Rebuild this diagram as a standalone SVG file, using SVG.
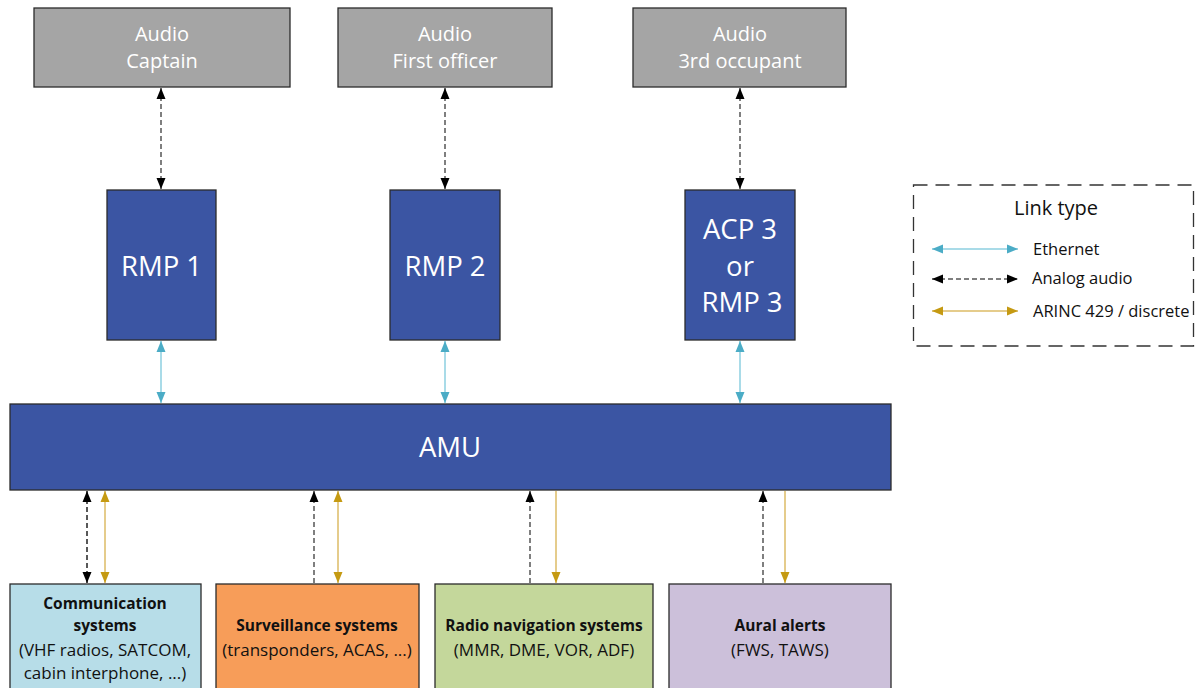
<svg xmlns="http://www.w3.org/2000/svg" width="1196" height="688" viewBox="0 0 1196 688">
<defs>
<style>
.box{stroke:#2b2b2b;stroke-width:1.3}
.gray{fill:#A5A5A5}
.blue{fill:#3B55A3}
.tw{font-family:"Open Sans","Noto Sans",sans-serif;fill:#fff;text-anchor:middle}
.tb{font-family:"Open Sans","Noto Sans",sans-serif;fill:#111;text-anchor:middle;font-size:17px}
.bold{font-weight:bold;font-size:15.5px}
.lg{font-family:"Open Sans","Noto Sans",sans-serif;fill:#111;font-size:16.5px}
.aud{stroke:#555;stroke-width:1.5;stroke-dasharray:5,3;fill:none}
.eth{stroke:#8DCFE0;stroke-width:1.5;fill:none}
.arc{stroke:#DDBB66;stroke-width:1.5;fill:none}
</style>
<marker id="mb" markerWidth="11" markerHeight="10" refX="11" refY="5" orient="auto-start-reverse" markerUnits="userSpaceOnUse"><path d="M0,0.5 L11,5 L0,9.5 z" fill="#000"/></marker>
<marker id="me" markerWidth="11" markerHeight="10" refX="11" refY="5" orient="auto-start-reverse" markerUnits="userSpaceOnUse"><path d="M0,0.5 L11,5 L0,9.5 z" fill="#4BACC6"/></marker>
<marker id="ma" markerWidth="11" markerHeight="10" refX="11" refY="5" orient="auto-start-reverse" markerUnits="userSpaceOnUse"><path d="M0,0.5 L11,5 L0,9.5 z" fill="#C59A12"/></marker>
</defs>
<rect width="1196" height="688" fill="#fff"/>

<g id="audio-captain">
<rect class="box gray" x="34" y="8" width="256" height="79"/>
<text class="tw" x="162" y="41" font-size="20">Audio</text>
<text class="tw" x="162" y="68" font-size="20">Captain</text>
</g>
<g id="audio-fo">
<rect class="box gray" x="338" y="8" width="214" height="79"/>
<text class="tw" x="445" y="41" font-size="20">Audio</text>
<text class="tw" x="445" y="68" font-size="20">First officer</text>
</g>
<g id="audio-3rd">
<rect class="box gray" x="633" y="8" width="213" height="79"/>
<text class="tw" x="740" y="41" font-size="20">Audio</text>
<text class="tw" x="740" y="68" font-size="20">3rd occupant</text>
</g>

<g id="rmp1">
<rect class="box blue" x="107" y="190" width="109" height="150"/>
<text class="tw" x="161.5" y="276" font-size="27.5">RMP 1</text>
</g>
<g id="rmp2">
<rect class="box blue" x="390" y="190" width="110" height="150"/>
<text class="tw" x="445" y="276" font-size="27.5">RMP 2</text>
</g>
<g id="acp3">
<rect class="box blue" x="685" y="190" width="110" height="150"/>
<text class="tw" x="740" y="239" font-size="27.5">ACP 3</text>
<text class="tw" x="740" y="276" font-size="27.5">or</text>
<text class="tw" x="742" y="312" font-size="27.5">RMP 3</text>
</g>

<g id="amu">
<rect class="box blue" x="10" y="404" width="881" height="86"/>
<text class="tw" x="450" y="457" font-size="27.5">AMU</text>
</g>

<g id="comm">
<rect class="box" fill="#B7DDE8" x="10" y="584" width="191" height="116"/>
<text class="tb bold" x="105" y="609">Communication</text>
<text class="tb bold" x="105" y="631">systems</text>
<text class="tb" x="105" y="656">(VHF radios, SATCOM,</text>
<text class="tb" x="105" y="679">cabin interphone, ...)</text>
</g>
<g id="surv">
<rect class="box" fill="#F79D59" x="216" y="584" width="203" height="116"/>
<text class="tb bold" x="317" y="631">Surveillance systems</text>
<text class="tb" x="317" y="656">(transponders, ACAS, ...)</text>
</g>
<g id="radio">
<rect class="box" fill="#C4D79B" x="435" y="584" width="218" height="116"/>
<text class="tb bold" x="544" y="631">Radio navigation systems</text>
<text class="tb" x="544" y="656">(MMR, DME, VOR, ADF)</text>
</g>
<g id="aural">
<rect class="box" fill="#CCC0DA" x="669" y="584" width="222" height="116"/>
<text class="tb bold" x="780" y="631">Aural alerts</text>
<text class="tb" x="780" y="656">(FWS, TAWS)</text>
</g>

<g id="connectors">
<line class="aud" x1="161" y1="88" x2="161" y2="189" marker-start="url(#mb)" marker-end="url(#mb)"/>
<line class="aud" x1="445" y1="88" x2="445" y2="189" marker-start="url(#mb)" marker-end="url(#mb)"/>
<line class="aud" x1="740" y1="88" x2="740" y2="189" marker-start="url(#mb)" marker-end="url(#mb)"/>
<line class="eth" x1="161" y1="341" x2="161" y2="403" marker-start="url(#me)" marker-end="url(#me)"/>
<line class="eth" x1="445" y1="341" x2="445" y2="403" marker-start="url(#me)" marker-end="url(#me)"/>
<line class="eth" x1="740" y1="341" x2="740" y2="403" marker-start="url(#me)" marker-end="url(#me)"/>
<line class="aud" x1="87" y1="491" x2="87" y2="583" marker-start="url(#mb)" marker-end="url(#mb)" style="stroke:#222"/>
<line class="arc" x1="105" y1="491" x2="105" y2="583" marker-start="url(#ma)" marker-end="url(#ma)"/>
<line class="aud" x1="314" y1="583" x2="314" y2="491" marker-end="url(#mb)"/>
<line class="arc" x1="338" y1="491" x2="338" y2="583" marker-start="url(#ma)" marker-end="url(#ma)"/>
<line class="aud" x1="530" y1="583" x2="530" y2="491" marker-end="url(#mb)"/>
<line class="arc" x1="556" y1="491" x2="556" y2="583" marker-end="url(#ma)"/>
<line class="aud" x1="763" y1="583" x2="763" y2="491" marker-end="url(#mb)"/>
<line class="arc" x1="785" y1="491" x2="785" y2="583" marker-end="url(#ma)"/>
</g>

<g id="legend">
<rect x="913.5" y="185" width="280" height="161" fill="none" stroke="#333" stroke-width="1.3" stroke-dasharray="14,8"/>
<text class="lg" x="1056" y="215" style="font-size:20px" text-anchor="middle">Link type</text>
<line class="eth" x1="932" y1="249" x2="1018" y2="249" marker-start="url(#me)" marker-end="url(#me)"/>
<text class="lg" x="1033" y="255">Ethernet</text>
<line class="aud" x1="932" y1="279" x2="1018" y2="279" marker-start="url(#mb)" marker-end="url(#mb)"/>
<text class="lg" x="1032" y="284">Analog audio</text>
<line class="arc" x1="932" y1="311" x2="1018" y2="311" marker-start="url(#ma)" marker-end="url(#ma)"/>
<text class="lg" x="1033" y="317">ARINC 429 / discrete</text>
</g>
</svg>
